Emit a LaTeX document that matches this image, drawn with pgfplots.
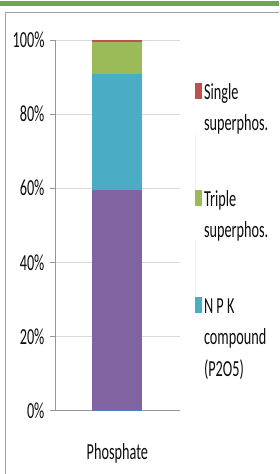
\documentclass[border=0pt]{standalone}
\usepackage{pgfplots}
\pgfplotsset{compat=1.18}
\usepackage{fontspec}
\setmainfont[FakeStretch=0.62]{Carlito}
\definecolor{cBlue}{HTML}{4F81BD}
\definecolor{cPurple}{HTML}{8064A2}
\definecolor{cTeal}{HTML}{4BACC6}
\definecolor{cGreen}{HTML}{9BBB59}
\definecolor{cRed}{HTML}{C0504D}
\definecolor{frameGreen}{RGB}{106,168,79}
\definecolor{frameGrey}{RGB}{160,160,160}
\definecolor{gridGrey}{RGB}{217,217,217}
\definecolor{axisGrey}{RGB}{150,150,150}
\definecolor{txt}{RGB}{13,13,13}
\pgfplotsset{
  sqleg/.style={legend image code/.code={\fill[##1] (0pt,0pt) rectangle (7pt,16pt);}},
  sqlegtall/.style={legend image code/.code={\fill[##1] (0pt,0pt) rectangle (7pt,16pt);\path (0pt,0pt) -- (0pt,72pt);}},
}
\newcommand{\ls}{\rule[-11pt]{0pt}{37pt}}
\begin{document}
\begin{tikzpicture}
\path (0pt,0pt) rectangle (279pt,474pt);
\fill[frameGreen] (0pt,468pt) rectangle (279pt,472.5pt);
\draw[frameGrey, line width=0.8pt] (5pt,0pt) -- (5pt,461.3pt) -- (279pt,461.3pt);
\begin{axis}[
  at={(55pt,63pt)}, anchor=south west,
  scale only axis, width=125pt, height=371pt,
  xmin=-0.5, xmax=0.5, ymin=0, ymax=100,
  ybar stacked, bar width=50pt,
  axis x line*=bottom, axis y line*=left,
  axis line style={axisGrey, line width=0.8pt},
  ytick={0,20,...,100},
  yticklabel={\pgfmathprintnumber{\tick}\%},
  /pgf/number format/assume math mode=true,
  xtick={0}, xticklabels={Phosphate},
  major x tick style={draw=none},
  extra x ticks={-0.5,0.5}, extra x tick labels={},
  extra x tick style={grid=none, major tick length=10pt, tick align=outside,
    tick style={axisGrey, line width=0.8pt}},
  ytick style={axisGrey, line width=0.8pt},
  tick align=outside, major tick length=5pt,
  ymajorgrids, grid style={gridGrey, line width=0.8pt},
  ticklabel style={font=\fontsize{23}{37}\selectfont, text=txt},
  yticklabel style={xshift=-2pt},
  xticklabel style={yshift=-24pt},
  legend cell align=left,
  legend style={draw=none, fill=none, at={(1.12,0.916)}, anchor=north west,
    inner sep=0pt, font=\fontsize{23}{37}\selectfont, text=txt,
    cells={anchor=base west, inner sep=0pt},
    /tikz/every even column/.append style={column sep=4pt}},
]
\addplot[fill=cBlue, draw=none, forget plot] coordinates {(0,0.3)};
\addplot[fill=cPurple, draw=none, forget plot] coordinates {(0,59.3)};
\addplot[fill=cTeal, draw=none, forget plot] coordinates {(0,31.2)};
\addplot[fill=cGreen, draw=none, forget plot] coordinates {(0,8.7)};
\addplot[fill=cRed, draw=none, forget plot] coordinates {(0,0.5)};
\addlegendimage{fill=cRed, draw=none, sqleg}
\addlegendentry{\ls Single}
\addlegendimage{empty legend}
\addlegendentry{\ls superphos.}
\addlegendimage{fill=cGreen, draw=none, sqlegtall}
\addlegendentry{\ls Triple}
\addlegendimage{empty legend}
\addlegendentry{\ls superphos.}
\addlegendimage{fill=cTeal, draw=none, sqlegtall}
\addlegendentry{\ls N P K}
\addlegendimage{empty legend}
\addlegendentry{\ls compound}
\addlegendimage{empty legend}
\addlegendentry{\ls (P2O5)}
\end{axis}
\end{tikzpicture}
\end{document}
